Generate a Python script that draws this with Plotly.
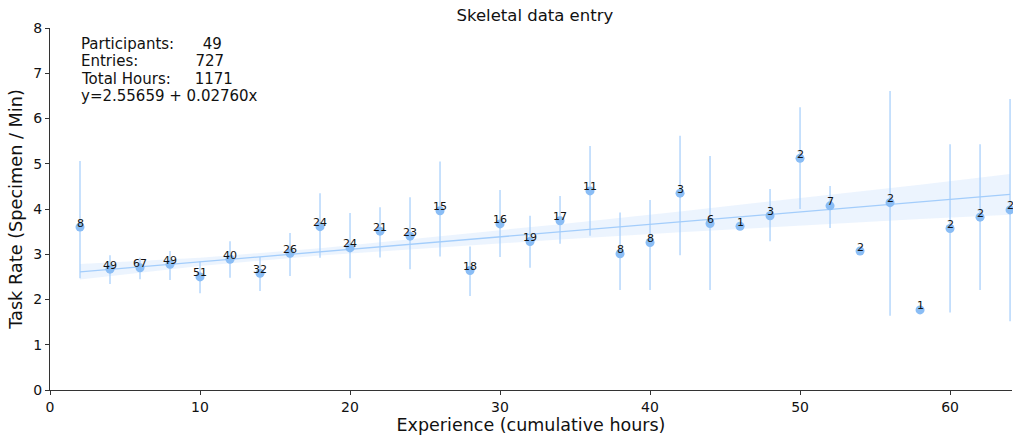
import plotly.graph_objects as go

# ---- data ----
experience = [2, 4, 6, 8, 10, 12, 14, 16, 18, 20, 22, 24, 26, 28, 30, 32,
              34, 36, 38, 40, 42, 44, 46, 48, 50, 52, 54, 56, 58, 60, 62, 64]
task_rate = [3.60, 2.67, 2.70, 2.78, 2.50, 2.89, 2.58, 3.02, 3.61, 3.14, 3.51, 3.40, 3.96, 2.64, 3.67, 3.28,
             3.74, 4.40, 3.01, 3.26, 4.35, 3.68, 3.62, 3.85, 5.12, 4.07, 3.07, 4.14, 1.77, 3.57, 3.82, 3.98]
ci_upper = [5.06, 2.98, 2.92, 3.07, 2.84, 3.29, 2.94, 3.47, 4.35, 3.91, 4.04, 4.26, 5.05, 3.17, 4.42, 3.85,
            4.29, 5.39, 3.92, 4.20, 5.62, 5.17, 3.62, 4.44, 6.25, 4.51, 3.07, 6.61, 1.77, 5.43, 5.43, 6.43]
ci_lower = [2.47, 2.34, 2.45, 2.43, 2.14, 2.48, 2.19, 2.52, 2.92, 2.47, 2.93, 2.67, 2.95, 2.08, 2.94, 2.70,
            3.23, 3.41, 2.21, 2.21, 2.98, 2.21, 3.62, 3.29, 4.00, 3.58, 3.07, 1.64, 1.77, 1.71, 2.21, 1.52]
counts = [8, 49, 67, 49, 51, 40, 32, 26, 24, 24, 21, 23, 15, 18, 16, 19,
          17, 11, 8, 8, 3, 6, 1, 3, 2, 7, 2, 2, 1, 2, 2, 2]

intercept = 2.55659
slope = 0.02760
band_x = [2, 10, 18, 26, 34, 42, 50, 58, 64]
band_half = [0.17, 0.09, 0.08, 0.12, 0.17, 0.23, 0.30, 0.38, 0.45]

participants = 49
entries = 727
total_hours = 1171

title = "Skeletal data entry"
x_label = "Experience (cumulative hours)"
y_label = "Task Rate (Specimen / Min)"
x_ticks = [0, 10, 20, 30, 40, 50, 60]
y_ticks = [0, 1, 2, 3, 4, 5, 6, 7, 8]

# ---- derived ----
fit_y = [intercept + slope * x for x in band_x]
band_up = [f + h for f, h in zip(fit_y, band_half)]
band_lo = [f - h for f, h in zip(fit_y, band_half)]
err_plus = [u - y for u, y in zip(ci_upper, task_rate)]
err_minus = [y - l for l, y in zip(ci_lower, task_rate)]

FONT = "DejaVu Sans"
BLUE_PT = "#8abdf5"
BLUE_LINE = "#a3cdfb"

fig = go.Figure()

fig.add_trace(go.Scatter(x=band_x + band_x[::-1], y=band_up + band_lo[::-1],
                         fill="toself", fillcolor="rgba(170,205,250,0.22)",
                         line=dict(width=0), mode="lines", hoverinfo="skip", showlegend=False))
fig.add_trace(go.Scatter(x=band_x, y=fit_y, mode="lines",
                         line=dict(color=BLUE_LINE, width=1.3), showlegend=False))
fig.add_trace(go.Scatter(x=experience, y=task_rate, mode="markers", cliponaxis=False,
                         marker=dict(color=BLUE_PT, size=9, line=dict(width=0)),
                         error_y=dict(type="data", symmetric=False, array=err_plus, arrayminus=err_minus,
                                      color=BLUE_LINE, thickness=1.2, width=0),
                         showlegend=False))

for x, y, n in zip(experience, task_rate, counts):
    fig.add_annotation(x=x, y=y, text=str(n), showarrow=False, yshift=4,
                       font=dict(family=FONT, size=11, color="#111"))

nb = "\u00a0"
info_lines = [f"Participants:{nb*6}{participants}",
              f"Entries:{nb*12}{entries}",
              f"Total Hours:{nb*5}{total_hours}",
              f"y={intercept:.5f} + {slope:.5f}x"]
for i, line in enumerate(info_lines):
    fig.add_annotation(xref="paper", yref="paper", x=0.030, y=0.9558 - i * 0.0480,
                       xanchor="left", yanchor="middle", text=line, showarrow=False, align="left",
                       font=dict(family=FONT, size=15, color="#111"))

fig.update_layout(
    width=1013, height=437,
    margin=dict(l=50, r=1, t=28, b=47, autoexpand=False),
    paper_bgcolor="white", plot_bgcolor="white",
    font=dict(family=FONT, color="#111"),
    title=dict(text=title, x=0.528, xanchor="center", y=0.965, yanchor="middle",
               font=dict(family=FONT, size=16.5, color="#111")),
    xaxis=dict(range=[0, 64.13], tickvals=x_ticks, showgrid=False, zeroline=False, automargin=False,
               showline=True, linecolor="#333", linewidth=1, ticks="outside", ticklen=4,
               tickcolor="#333", tickfont=dict(size=14),
               title=dict(text=x_label, font=dict(size=17.5), standoff=4)),
    yaxis=dict(range=[0, 8], tickvals=y_ticks, showgrid=False, zeroline=False, automargin=False,
               showline=True, linecolor="#333", linewidth=1, ticks="outside", ticklen=4,
               tickcolor="#333", tickfont=dict(size=14),
               title=dict(text=y_label, font=dict(size=17.7), standoff=6)),
)

fig.write_html("out.html", config={"displayModeBar": False},
               post_script="document.body.style.margin='0';document.body.style.padding='0';"
                           "document.documentElement.style.overflow='hidden';")
